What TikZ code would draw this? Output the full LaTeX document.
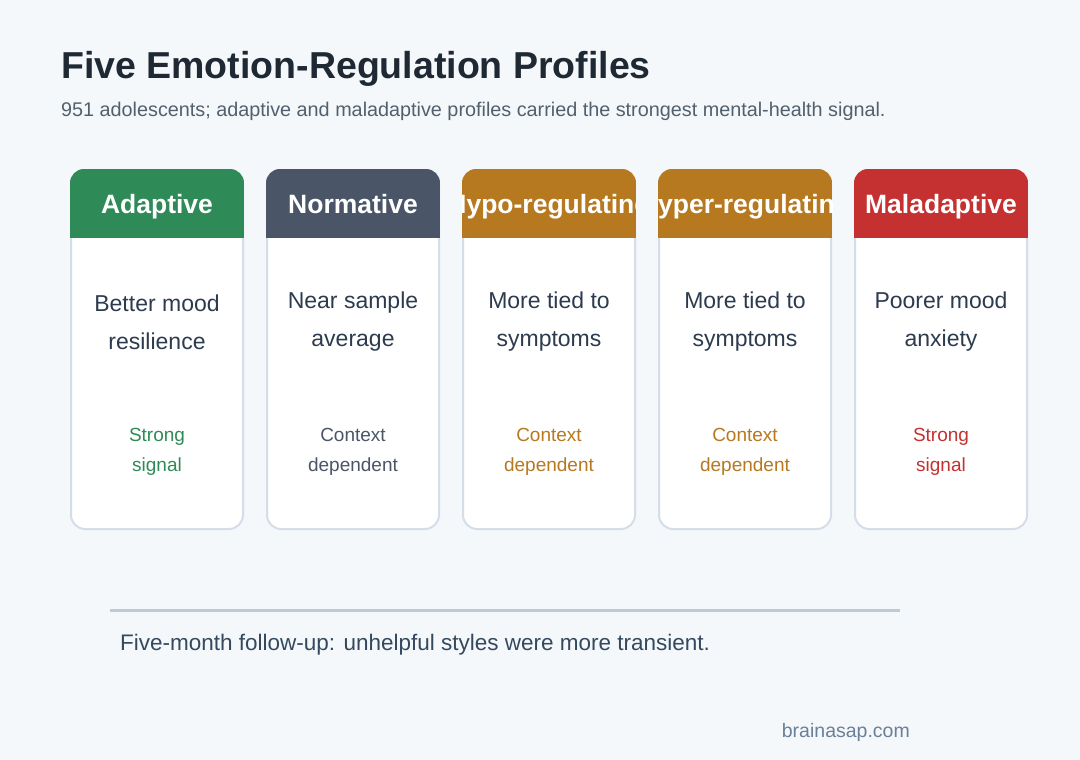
\documentclass[tikz,border=0pt]{standalone}
\usepackage{fontspec}
\setmainfont{Liberation Sans}
\usetikzlibrary{positioning}
\definecolor{pagebg}{HTML}{F5F8FB}
\definecolor{cardline}{HTML}{D5DEE8}
\definecolor{titlecol}{HTML}{1F2933}
\definecolor{subcol}{HTML}{52606D}
\definecolor{bodycol}{HTML}{2D3B4E}
\definecolor{adapt}{HTML}{2E8B57}
\definecolor{norm}{HTML}{4A5568}
\definecolor{amber}{HTML}{B7791F}
\definecolor{malad}{HTML}{C53030}
\definecolor{rulecol}{HTML}{BCCBDA}
\definecolor{footcol}{HTML}{34495E}
\definecolor{sitecol}{HTML}{6A7F99}
\begin{document}
\begin{tikzpicture}[x=1pt,y=-1pt,
every node/.style = {inner sep=0pt, align=center},
card/.style = {draw=cardline, line width=2pt, fill=white, rounded corners=14pt},
head/.style = {text=white, anchor=base, font=\fontsize{26.5}{30}\selectfont\bfseries},
body/.style = {text=bodycol, font=\fontsize{23}{38}\selectfont},
sig/.style = {font=\fontsize{19}{30}\selectfont},
                    ]
%---
\fill[pagebg] (0,0) rectangle (1080,760);
\useasboundingbox (0,0) rectangle (1080,760);

\node (title) [anchor=base west, text=titlecol, font=\fontsize{37.5}{40}\selectfont\bfseries]
      at (61,79) {Five Emotion-Regulation Profiles};
\node (sub) [anchor=base west, text=subcol, font=\fontsize{19.8}{22}\selectfont]
      at (61,117) {951 adolescents; adaptive and maladaptive profiles carried the strongest mental-health signal.};

\foreach \i/\hd/\col/\la/\lb/\sa/\sb in
   {0/Adaptive/adapt/Better mood/resilience/Strong/signal,
    1/Normative/norm/Near sample/average/Context/dependent,
    2/Hypo-regulating/amber/More tied to/symptoms/Context/dependent,
    3/Hyper-regulating/amber/More tied to/symptoms/Context/dependent,
    4/Maladaptive/malad/Poorer mood/anxiety/Strong/signal}
{
  \pgfmathsetmacro{\cx}{157+196*\i}
  \draw[card] (\cx-86,170) rectangle (\cx+86,529);
  \begin{scope}
    \clip[rounded corners=14pt] (\cx-87,169) rectangle (\cx+87,260);
    \fill[\col] (\cx-87,169) rectangle (\cx+87,238);
    \node (head\i) [head] at (\cx,213) {\hd};
  \end{scope}
  \node (body\i) [body] at (\cx,322) {\la\\\lb};
  \node (sig\i) [sig, text=\col] at (\cx,452) {\sa\\\sb};
}

\coordinate (ruleL) at (110,610);
\coordinate (ruleR) at (900,610);
\draw[rulecol, line width=3pt] (ruleL) -- (ruleR);
\node (foot) [anchor=base west, text=footcol, font=\fontsize{22.5}{25}\selectfont]
      at (120,650) {Five-month follow-up: unhelpful styles were more transient.};
\node (site) [anchor=base east, text=sitecol, font=\fontsize{19.5}{22}\selectfont]
      at (910,737) {brainasap.com};
\end{tikzpicture}
\end{document}
